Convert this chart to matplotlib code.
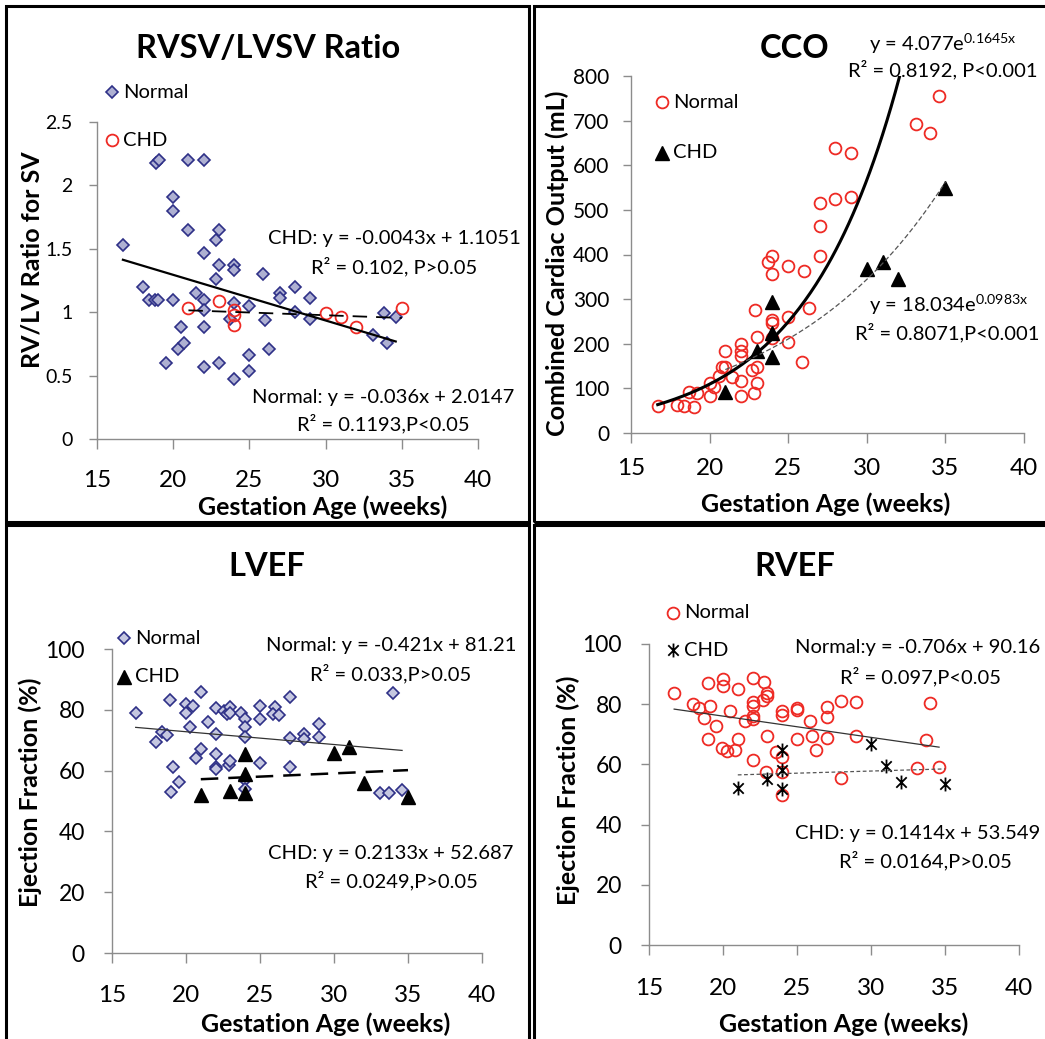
import numpy as np
import matplotlib
matplotlib.use("Agg")
import matplotlib.pyplot as plt
from matplotlib.patches import Rectangle
from matplotlib.lines import Line2D
from matplotlib.path import Path

plt.rcParams['font.family'] = ['Lato', 'DejaVu Sans']

# ---- data: RVSV/LVSV ratio
ratio_norm_x = [16.7, 18.0, 18.4, 18.8, 19.0, 18.9, 19.1, 19.5, 20.0, 20.0, 20.0, 20.3, 20.5, 20.7, 21.0,
                21.0, 21.5, 22.0, 22.0, 22.0, 22.0, 22.0, 22.0, 22.8, 22.8, 23.0, 23.0, 23.0, 23.7, 24.0,
                24.0, 24.0, 24.0, 25.0, 25.0, 25.0, 25.9, 26.0, 26.3, 27.0, 27.0, 28.0, 28.0, 29.0, 29.0,
                33.1, 33.8, 34.0, 34.6]
ratio_norm_y = [1.53, 1.20, 1.10, 1.10, 1.10, 2.18, 2.20, 0.60, 1.10, 1.91, 1.80, 0.71, 0.88, 0.76, 2.20,
                1.65, 1.15, 2.20, 1.47, 1.10, 1.02, 0.88, 0.57, 1.26, 1.57, 1.65, 1.37, 0.60, 0.95, 1.37,
                1.33, 1.07, 0.47, 1.05, 0.66, 0.54, 1.30, 0.94, 0.71, 1.15, 1.11, 1.20, 1.00, 1.11, 0.95,
                0.82, 0.99, 0.76, 0.96]
ratio_chd_x = [21, 23, 24, 24, 24, 30, 31, 32, 35]
ratio_chd_y = [1.03, 1.09, 1.02, 0.98, 0.90, 0.99, 0.96, 0.88, 1.03]

# ---- data: combined cardiac output
cco_norm_x = [16.7, 17.9, 18.4, 18.7, 19.0, 19.2, 20.0, 20.0, 20.3, 20.6, 20.8, 21.0, 21.0, 21.4, 22.0,
              22.0, 22.0, 22.0, 22.0, 22.7, 22.8, 22.9, 23.0, 23.0, 23.0, 23.7, 24.0, 24.0, 24.0, 24.0,
              24.0, 25.0, 25.0, 25.0, 26.0, 25.9, 26.3, 27.0, 27.0, 27.0, 28.0, 28.0, 29.0, 29.0, 33.1,
              34.0, 34.6]
cco_norm_y = [60, 63, 60, 91, 58, 90, 82, 112, 104, 128, 149, 184, 148, 125, 199,
              184, 173, 116, 84, 142, 90, 276, 148, 112, 215, 384, 397, 357, 254, 246,
              213, 375, 259, 205, 364, 160, 279, 397, 463, 516, 525, 638, 528, 627, 692,
              672, 756]
cco_chd_x = [21, 23, 24, 24, 24, 30, 31, 32, 35]
cco_chd_y = [92, 183, 293, 224, 170, 367, 384, 345, 550]

# ---- data: LVEF
lvef_norm_x = [16.6, 18.0, 18.4, 18.7, 18.9, 19.1, 19.0, 19.5, 20.0, 20.0, 20.3, 20.5, 20.7, 21.0, 21.0,
               21.5, 22.0, 22.0, 22.0, 22.0, 22.0, 22.6, 22.8, 23.0, 23.0, 22.9, 23.0, 23.7, 24.0, 24.0,
               24.0, 24.0, 24.0, 25.0, 25.0, 25.0, 26.0, 25.9, 26.3, 27.0, 27.0, 27.0, 28.0, 28.0, 29.0,
               29.0, 33.1, 33.7, 34.0, 34.6]
lvef_norm_y = [78.8, 69.3, 72.6, 71.7, 83.2, 61.3, 52.8, 56.1, 81.9, 79.0, 74.2, 81.3, 64.3, 85.8, 67.0,
               76.1, 80.5, 72.2, 65.6, 61.3, 60.4, 79.6, 78.5, 80.8, 79.0, 61.7, 63.2, 79.0, 77.0, 74.4,
               70.9, 56.9, 53.8, 81.3, 77.1, 62.6, 81.0, 78.5, 78.3, 84.3, 70.6, 61.3, 72.2, 70.3, 75.3,
               71.0, 52.5, 52.5, 85.6, 53.6]
lvef_chd_x = [21, 23, 24, 24, 24, 30, 31, 32, 35]
lvef_chd_y = [52.0, 53.3, 65.6, 59.0, 52.5, 65.9, 67.8, 56.0, 51.2]

# ---- data: RVEF
rvef_norm_x = [16.7, 18.0, 18.4, 18.7, 19.0, 19.1, 19.0, 19.5, 20.0, 20.0, 19.9, 20.3, 20.5, 20.8, 21.0,
               21.0, 21.5, 22.0, 22.0, 22.0, 22.0, 22.0, 22.0, 22.7, 22.8, 23.0, 23.0, 23.0, 22.9, 23.6,
               24.0, 24.0, 24.0, 24.0, 24.0, 25.0, 25.0, 25.0, 25.9, 26.0, 26.3, 27.0, 27.0, 27.0, 28.0,
               28.0, 29.0, 29.0, 33.1, 33.7, 34.0, 34.6]
rvef_norm_y = [83.7, 80.0, 78.7, 75.4, 87.0, 79.3, 68.5, 72.9, 88.4, 86.1, 65.4, 64.6, 77.8, 64.9, 85.0,
               68.4, 74.5, 88.7, 80.6, 79.3, 76.2, 75.0, 61.3, 81.5, 87.4, 83.7, 82.8, 69.5, 57.6, 64.0,
               77.6, 76.5, 62.6, 57.6, 49.9, 78.7, 78.2, 68.5, 74.5, 69.5, 64.9, 79.0, 75.6, 68.7, 80.9,
               55.4, 80.6, 69.3, 58.8, 68.2, 80.4, 59.3]
rvef_chd_x = [21, 23, 24, 24, 24, 30, 31, 32, 35]
rvef_chd_y = [52.1, 55.1, 64.9, 58.2, 51.8, 66.9, 59.5, 54.3, 53.5]

# trendline coefficients printed on the chart
ratio_norm_fit = (-0.036, 2.0147)
ratio_chd_fit = (-0.0043, 1.1051)
cco_norm_fit = (4.077, 0.1645)
cco_chd_fit = (18.034, 0.0983)
lvef_norm_fit = (-0.421, 81.21)
lvef_chd_fit = (0.2133, 52.687)
rvef_norm_fit = (-0.706, 90.16)
rvef_chd_fit = (0.1414, 53.549)

W, H = 1045, 1039
fig = plt.figure(figsize=(W / 100, H / 100), dpi=100)

GRAY = '#8c8c8c'
DIA_FACE = '#aeb0d2'
DIA_EDGE = '#2e3087'
RED = '#ee2a24'
ANN = 14.5
LAB = 18

star = Path([(0, -1), (0, 1), (-0.75, -0.75), (0.75, 0.75), (-0.75, 0.75), (0.75, -0.75)],
            [Path.MOVETO, Path.LINETO, Path.MOVETO, Path.LINETO, Path.MOVETO, Path.LINETO])

STYLE_DIA = dict(marker='D', ms=6.5, mfc=DIA_FACE, mec=DIA_EDGE, mew=1.2, ls='none')
STYLE_CIRC = dict(marker='o', ms=8.5, mfc='none', mec=RED, mew=1.3, ls='none')
STYLE_TRI = dict(marker='^', ms=9.5, mfc='black', mec='black', ls='none')
STYLE_STAR = dict(marker=star, ms=10, mfc='none', mec='black', mew=1.3, ls='none')


def px(x, y):
    return x / W, 1 - y / H


def make_axes(x0, x1, ytop, ybot, ymax, ystep, ytick_fs, xpad, ypad):
    ax = fig.add_axes([x0 / W, 1 - ybot / H, (x1 - x0) / W, (ybot - ytop) / H])
    ax.set_xlim(15, 40)
    ax.set_ylim(0, ymax)
    ax.set_xticks(np.arange(15, 41, 5))
    ax.set_yticks(np.arange(0, ymax + ystep / 2, ystep))
    for s in ['top', 'right']:
        ax.spines[s].set_visible(False)
    for s in ['left', 'bottom']:
        ax.spines[s].set_color(GRAY)
        ax.spines[s].set_linewidth(1.0)
    ax.tick_params(axis='x', direction='out', length=7, width=1, color=GRAY, labelsize=17.5, pad=xpad)
    ax.tick_params(axis='y', direction='out', length=5.5, width=1, color=GRAY, labelsize=ytick_fs, pad=ypad)
    ax.patch.set_alpha(0)
    return ax


def txt(x, y, s, size=ANN, **kw):
    fig.text(*px(x, y), s, ha=kw.pop('ha', 'center'), va=kw.pop('va', 'center'), size=size, **kw)


def legend_item(x, y, label, style):
    st = dict(style)
    st.pop('ls')
    fig.add_artist(Line2D([x / W], [1 - y / H], transform=fig.transFigure, ls='none', **st))
    txt(x + 11, y, label, ha='left')


# frames
for (x0, y0, x1, y1) in [(6, 6, 529, 522), (534, 6, 1052, 522), (6, 525, 529, 1046), (534, 525, 1052, 1046)]:
    fig.add_artist(Rectangle(px(x0, y1), (x1 - x0) / W, (y1 - y0) / H, transform=fig.transFigure,
                             fill=False, ec='black', lw=2.2))

# ---------------- panel 1: RVSV/LVSV ratio
ax1 = make_axes(97, 478, 122, 439, 2.5, 0.5, 14, 15.5, 12)
ax1.set_yticklabels(['0', '0.5', '1', '1.5', '2', '2.5'])
ax1.plot(ratio_norm_x, ratio_norm_y, **STYLE_DIA)
ax1.plot(ratio_chd_x, ratio_chd_y, **STYLE_CIRC)
xs = np.array([min(ratio_norm_x), max(ratio_norm_x)])
ax1.plot(xs, ratio_norm_fit[0] * xs + ratio_norm_fit[1], color='black', lw=1.6)
xs = np.array([min(ratio_chd_x), max(ratio_chd_x)])
ax1.plot(xs, ratio_chd_fit[0] * xs + ratio_chd_fit[1], color='black', lw=1.3, ls=(0, (8, 5)))
txt(268, 48, 'RVSV/LVSV Ratio', size=23.5, weight='bold')
legend_item(112, 92, 'Normal', STYLE_DIA)
legend_item(112, 140, 'CHD', STYLE_CIRC)
txt(394, 239, 'CHD: y = -0.0043x + 1.1051')
txt(394, 267, 'R² = 0.102, P>0.05')
txt(383, 397, 'Normal: y = -0.036x + 2.0147')
txt(383, 424, 'R² = 0.1193,P<0.05')
txt(32, 260, 'RV/LV Ratio for SV', size=LAB, weight='bold', rotation=90)
txt(323, 507, 'Gestation Age (weeks)', size=LAB, weight='bold')

# ---------------- panel 2: CCO
ax2 = make_axes(631, 1024, 76, 433, 800, 100, 15, 11, 10)
ax2.plot(cco_norm_x, cco_norm_y, **STYLE_CIRC)
ax2.plot(cco_chd_x, cco_chd_y, **STYLE_TRI)
xs = np.linspace(min(cco_norm_x), max(cco_norm_x), 200)
ax2.plot(xs, cco_norm_fit[0] * np.exp(cco_norm_fit[1] * xs), color='black', lw=2.2)
xs = np.linspace(min(cco_chd_x), max(cco_chd_x), 200)
ax2.plot(xs, cco_chd_fit[0] * np.exp(cco_chd_fit[1] * xs), color='#555555', lw=0.9, ls=(0, (4, 2)))
txt(795, 48, 'CCO', size=23.5, weight='bold')
legend_item(662, 102, 'Normal', STYLE_CIRC)
legend_item(662, 153, 'CHD', STYLE_TRI)
txt(943, 44, r'y = 4.077e$^{\mathregular{0.1645x}}$')
txt(943, 70, 'R² = 0.8192, P<0.001')
txt(949, 305, r'y = 18.034e$^{\mathregular{0.0983x}}$')
txt(947, 333, 'R² = 0.8071,P<0.001')
txt(557, 263, 'Combined Cardiac Output (mL)', size=LAB, weight='bold', rotation=90)
txt(826, 504, 'Gestation Age (weeks)', size=LAB, weight='bold')

# ---------------- panel 3: LVEF
ax3 = make_axes(112, 482, 649, 953, 100, 20, 16.5, 16, 14)
ax3.plot(lvef_norm_x, lvef_norm_y, **dict(STYLE_DIA, mfc='#c5c7e0'))
ax3.plot(lvef_chd_x, lvef_chd_y, **STYLE_TRI)
xs = np.array([min(lvef_norm_x), max(lvef_norm_x)])
ax3.plot(xs, lvef_norm_fit[0] * xs + lvef_norm_fit[1], color='#333333', lw=0.9)
xs = np.array([min(lvef_chd_x), max(lvef_chd_x)])
ax3.plot(xs, lvef_chd_fit[0] * xs + lvef_chd_fit[1], color='black', lw=1.8, ls=(0, (7, 4)))
txt(267, 567, 'LVEF', size=23.5, weight='bold')
legend_item(124, 638, 'Normal', dict(STYLE_DIA, mfc='#c5c7e0'))
legend_item(124, 677, 'CHD', STYLE_TRI)
txt(391, 646, 'Normal: y = -0.421x + 81.21')
txt(391, 674, 'R² = 0.033,P>0.05')
txt(391, 853, 'CHD: y = 0.2133x + 52.687')
txt(391, 881, 'R² = 0.0249,P>0.05')
txt(30, 792, 'Ejection Fraction (%)', size=LAB, weight='bold', rotation=90)
txt(326, 1024, 'Gestation Age (weeks)', size=LAB, weight='bold')

# ---------------- panel 4: RVEF
ax4 = make_axes(649, 1019, 644, 945, 100, 20, 16.5, 16.5, 14)
ax4.plot(rvef_norm_x, rvef_norm_y, **STYLE_CIRC)
ax4.plot(rvef_chd_x, rvef_chd_y, **STYLE_STAR)
xs = np.array([min(rvef_norm_x), max(rvef_norm_x)])
ax4.plot(xs, rvef_norm_fit[0] * xs + rvef_norm_fit[1], color='#333333', lw=0.9)
xs = np.array([min(rvef_chd_x), max(rvef_chd_x)])
ax4.plot(xs, rvef_chd_fit[0] * xs + rvef_chd_fit[1], color='#555555', lw=0.9, ls=(0, (3, 2)))
txt(795, 567, 'RVEF', size=23.5, weight='bold')
legend_item(673, 613, 'Normal', STYLE_CIRC)
legend_item(673, 650, 'CHD', STYLE_STAR)
txt(918, 648, 'Normal:y = -0.706x + 90.16')
txt(920, 677, 'R² = 0.097,P<0.05')
txt(918, 833, 'CHD: y = 0.1414x + 53.549')
txt(925, 861, 'R² = 0.0164,P>0.05')
txt(568, 790, 'Ejection Fraction (%)', size=LAB, weight='bold', rotation=90)
txt(844, 1024, 'Gestation Age (weeks)', size=LAB, weight='bold')

fig.savefig('out.png', dpi=100)
